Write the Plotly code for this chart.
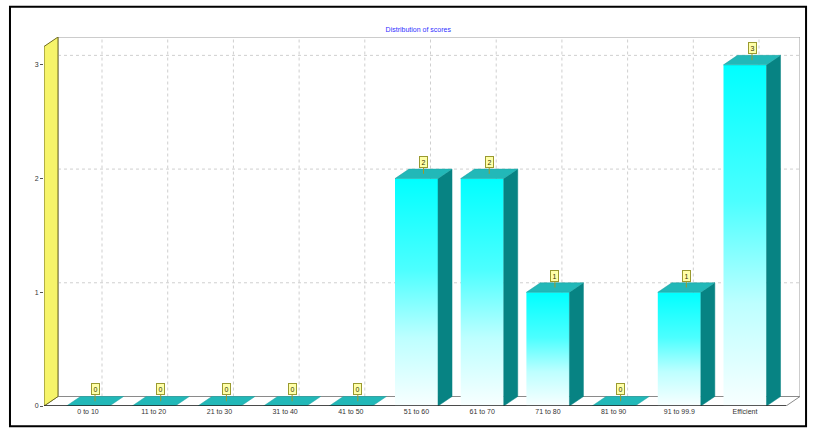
import plotly.graph_objects as go

# Score bands and how many results fall in each
categories = ["0 to 10", "11 to 20", "21 to 30", "31 to 40", "41 to 50",
              "51 to 60", "61 to 70", "71 to 80", "81 to 90", "91 to 99.9", "Efficient"]
counts = [0, 0, 0, 0, 0, 2, 2, 1, 0, 1, 3]
y_ticks = [0, 1, 2, 3]

# 3D look: bar width and extrusion depth in axis units
BAR_W = 0.655
DX = 0.213
DY = 0.0835

X_MIN, X_MAX = -0.670, 10.837
Y_MAX = 3.245

FRONT_TOP = "#00FFFF"
TOP_FACE = "#22B8B8"
SIDE_FACE = "#078383"
GRID = "#CFCFCF"

fig = go.Figure()

for i, v in enumerate(counts):
    x0, x1 = i - BAR_W / 2, i + BAR_W / 2
    if v > 0:
        # front face with vertical gradient
        fig.add_trace(go.Scatter(
            x=[x0, x1, x1, x0, x0], y=[0, 0, v, v, 0],
            mode="lines", line=dict(width=0), fill="toself",
            fillgradient=dict(type="vertical", start=0, stop=v,
                              colorscale=[[0, "#F8FFFF"], [0.3, "#BDFFFF"],
                                          [0.6, "#4CFFFF"], [1, FRONT_TOP]]),
            hoverinfo="skip", showlegend=False))
        # right side face
        fig.add_trace(go.Scatter(
            x=[x1, x1 + DX, x1 + DX, x1, x1], y=[0, DY, v + DY, v, 0],
            mode="lines", line=dict(width=0.5, color=SIDE_FACE), fill="toself",
            fillcolor=SIDE_FACE, hoverinfo="skip", showlegend=False))
    # top face
    fig.add_trace(go.Scatter(
        x=[x0, x1, x1 + DX, x0 + DX, x0], y=[v, v, v + DY, v + DY, v],
        mode="lines", line=dict(width=0.5, color="#1AA0A0"), fill="toself",
        fillcolor=TOP_FACE, hoverinfo="skip", showlegend=False))
    # value label box
    fig.add_annotation(
        x=i + DX / 2, y=v + DY / 2, text=str(v), showarrow=True,
        arrowhead=0, arrowwidth=1, arrowcolor="#9A9A30", ax=0, ay=-12,
        font=dict(size=7, color="#333300", family="Liberation Sans"),
        bgcolor="#FFFFA8", bordercolor="#9A9A30", borderwidth=1, borderpad=1.5)

shapes = []
# back wall
shapes.append(dict(type="rect", xref="x", yref="y", x0=X_MIN + DX, x1=X_MAX,
                   y0=DY, y1=Y_MAX, fillcolor="white",
                   line=dict(color="#9A9A9A", width=1), layer="below"))
# back wall grid
for t in y_ticks[1:]:
    shapes.append(dict(type="line", xref="x", yref="y", x0=X_MIN + DX, x1=X_MAX,
                       y0=t + DY, y1=t + DY, line=dict(color=GRID, width=1, dash="dot"),
                       layer="below"))
for i in range(len(categories)):
    shapes.append(dict(type="line", xref="x", yref="y", x0=i + DX, x1=i + DX,
                       y0=DY, y1=Y_MAX, line=dict(color=GRID, width=1, dash="dot"),
                       layer="below"))
# floor
shapes.append(dict(type="path", xref="x", yref="y",
                   path=f"M {X_MIN},0 L {X_MAX - DX},0 L {X_MAX},{DY} L {X_MIN + DX},{DY} Z",
                   fillcolor="white", line=dict(color="#8A8A8A", width=1), layer="below"))
# left wall
shapes.append(dict(type="path", xref="x", yref="y",
                   path=f"M {X_MIN},0 L {X_MIN},{Y_MAX - DY} L {X_MIN + DX},{Y_MAX} L {X_MIN + DX},{DY} Z",
                   fillcolor="#F6F46A", line=dict(color="#6E6A20", width=1), layer="below"))
# front base line
shapes.append(dict(type="line", xref="x", yref="y", x0=X_MIN, x1=X_MAX - DX,
                   y0=0, y1=0, line=dict(color="#222222", width=1.5), layer="above"))
# outer frame
shapes.append(dict(type="rect", xref="paper", yref="paper",
                   x0=-0.045, x1=1.008, y0=-0.055, y1=1.082,
                   line=dict(color="black", width=2), fillcolor="rgba(0,0,0,0)"))

fig.update_layout(
    width=817, height=436,
    margin=dict(l=44, r=17, t=37, b=30),
    paper_bgcolor="white", plot_bgcolor="white",
    shapes=shapes,
    title=dict(text="Distribution of scores", x=0.512, xanchor="center",
               y=1 - 30 / 436, yanchor="middle",
               font=dict(size=7, color="#3030FF", family="Liberation Sans")),
    xaxis=dict(range=[X_MIN, X_MAX], tickmode="array",
               tickvals=list(range(len(categories))), ticktext=categories,
               showgrid=False, zeroline=False, showline=False, ticks="",
               tickfont=dict(size=7, color="#333333", family="Liberation Sans")),
    yaxis=dict(range=[0, Y_MAX], tickmode="array", tickvals=y_ticks,
               ticktext=[str(t) for t in y_ticks],
               showgrid=False, zeroline=False, showline=False,
               ticks="outside", ticklen=3, tickcolor="#555555",
               tickfont=dict(size=7, color="#333333", family="Liberation Sans")),
    showlegend=False,
)

fig.write_html("out.html")
